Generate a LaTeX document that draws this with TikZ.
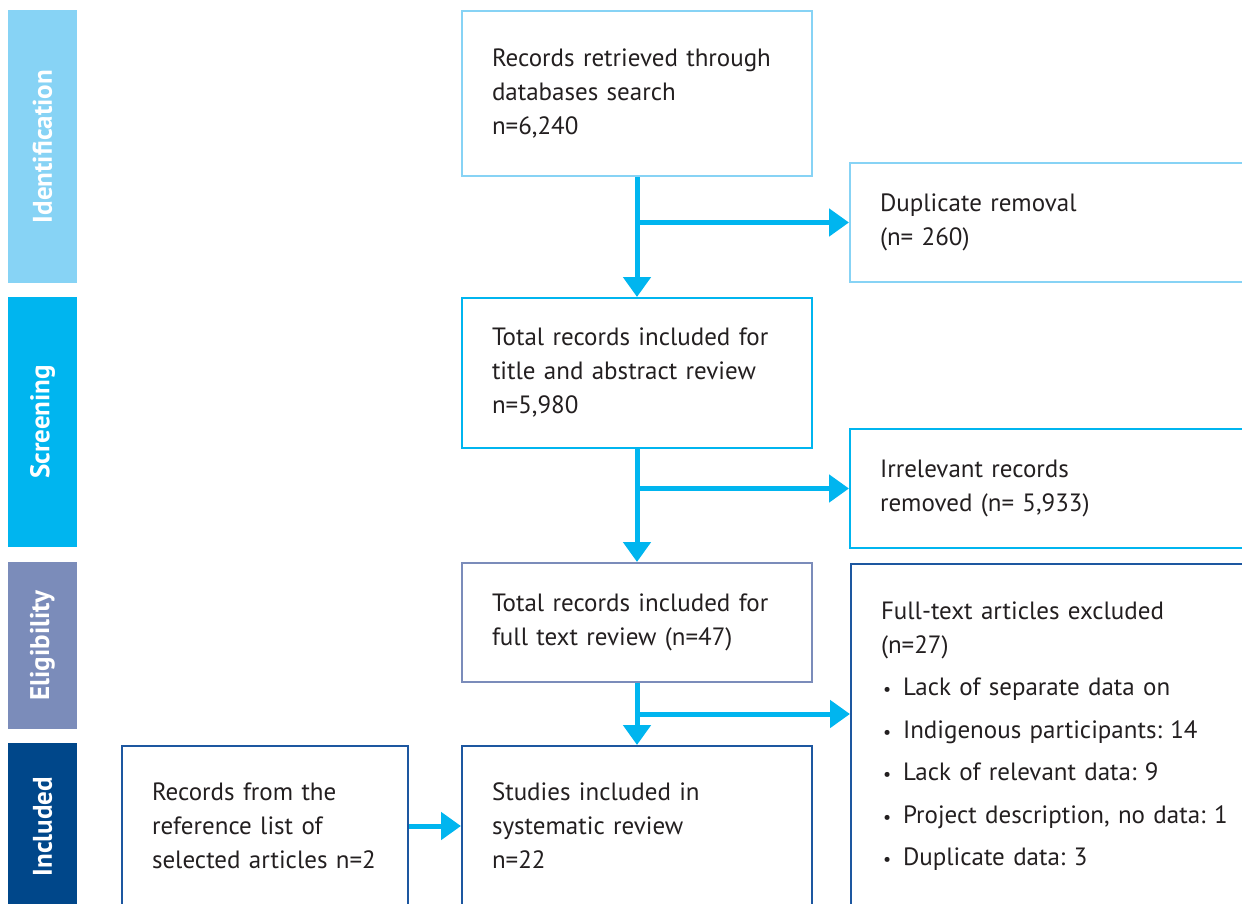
\documentclass[tikz,border=0pt]{standalone}
\usepackage{fontspec}
\setmainfont{PT Sans}
\usetikzlibrary{arrows.meta,calc}
\definecolor{prIdent}{HTML}{87D3F5}
\definecolor{prScreen}{HTML}{00B5EF}
\definecolor{prElig}{HTML}{7B8CBA}
\definecolor{prIncl}{HTML}{00478A}
\definecolor{prBorder}{HTML}{1D57A0}
\definecolor{prText}{HTML}{231F20}
\tikzset{
  >={Triangle[width=13.5pt,length=10pt]},
  phase/.style={rotate=90, minimum height=34.5pt, inner sep=0pt, text=white,
              font=\bfseries\fontsize{13.5}{15}\selectfont},
  stage/.style={draw, line width=1pt, anchor=north west, align=left,
              inner xsep=15pt, inner ysep=0pt, text=prText,
              font=\fontsize{12.5}{17}\selectfont},
  flow/.style={->, draw=prScreen, line width=2.5pt},
}
\frenchspacing
\newcommand{\prItem}[1]{\makebox[11pt][l]{\hspace{1pt}{\small\textbullet}}#1}

\begin{document}
\begin{tikzpicture}[x=0.5pt,y=-0.5pt]
    \useasboundingbox (0,0) rectangle (1242,904);
    \clip (0,0) rectangle (1242,904);
    % phase bars
    \node[phase,fill=prIdent,minimum width=136.5pt]  (pId)   at (42.5,146.5) {Identification};
    \node[phase,fill=prScreen,minimum width=125pt]   (pScr)  at (42.5,422)   {Screening};
    \node[phase,fill=prElig,minimum width=83.5pt]    (pElig) at (42.5,645.5) {Eligibility};
    \node[phase,fill=prIncl,minimum width=83.5pt]    (pIncl) at (42.5,826.5) {Included};
    % main column
    \node[stage,draw=prIdent,text width=145pt,minimum height=82.5pt] (bRetr) at (461,10)
      {Records retrieved through\\databases search\\n=6,240};
    \node[stage,draw=prScreen,text width=145pt,minimum height=75pt] (bTitle) at (461,297)
      {Total records included for\\title and abstract review\\n=5,980};
    \node[stage,draw=prElig,text width=145pt,minimum height=59.5pt] (bFull) at (461,562)
      {Total records included for\\full text review (n=47)};
    \node[stage,draw=prBorder,text width=145pt,minimum height=80pt] (bIncl) at (461,745)
      {Studies included in\\systematic review\\n=22};
    % side boxes
    \node[stage,draw=prIdent,text width=190pt,minimum height=59.5pt] (bDup) at (849,162)
      {Duplicate removal\\(n= 260)};
    \node[stage,draw=prScreen,text width=190pt,minimum height=59.5pt] (bIrr) at (849,428)
      {Irrelevant records\\removed (n= 5,933)};
    \node[stage,draw=prBorder,text width=190pt,minimum height=172pt] (bExcl) at (850,563)
      {Full-text articles excluded\\(n=27)\\[4.25pt]
       \prItem{Lack of separate data on}\\[4.25pt]
       \prItem{Indigenous participants: 14}\\[4.25pt]
       \prItem{Lack of relevant data: 9}\\[4.25pt]
       \prItem{Project description, no data: 1}\\[4.25pt]
       \prItem{Duplicate data: 3}};
    \node[stage,draw=prBorder,text width=113pt,minimum height=80pt] (bRef) at (121,745)
      {Records from the\\reference list of\\selected articles n=2};
    % arrows
    \draw[flow] (bRetr) -- (bTitle);
    \draw[flow] (bRetr.south |- bDup.west) -- (bDup.west);
    \draw[flow] (bTitle) -- (bFull);
    \draw[flow] (bTitle.south |- bIrr.west) -- (bIrr.west);
    \draw[flow] (bFull) -- (bIncl);
    \coordinate (split) at ($(bFull.south)!0.5!(bIncl.north)$);
    \draw[flow] (split) -- (split -| bExcl.west);
    \draw[flow] (bRef) -- (bIncl);
\end{tikzpicture}
\end{document}
